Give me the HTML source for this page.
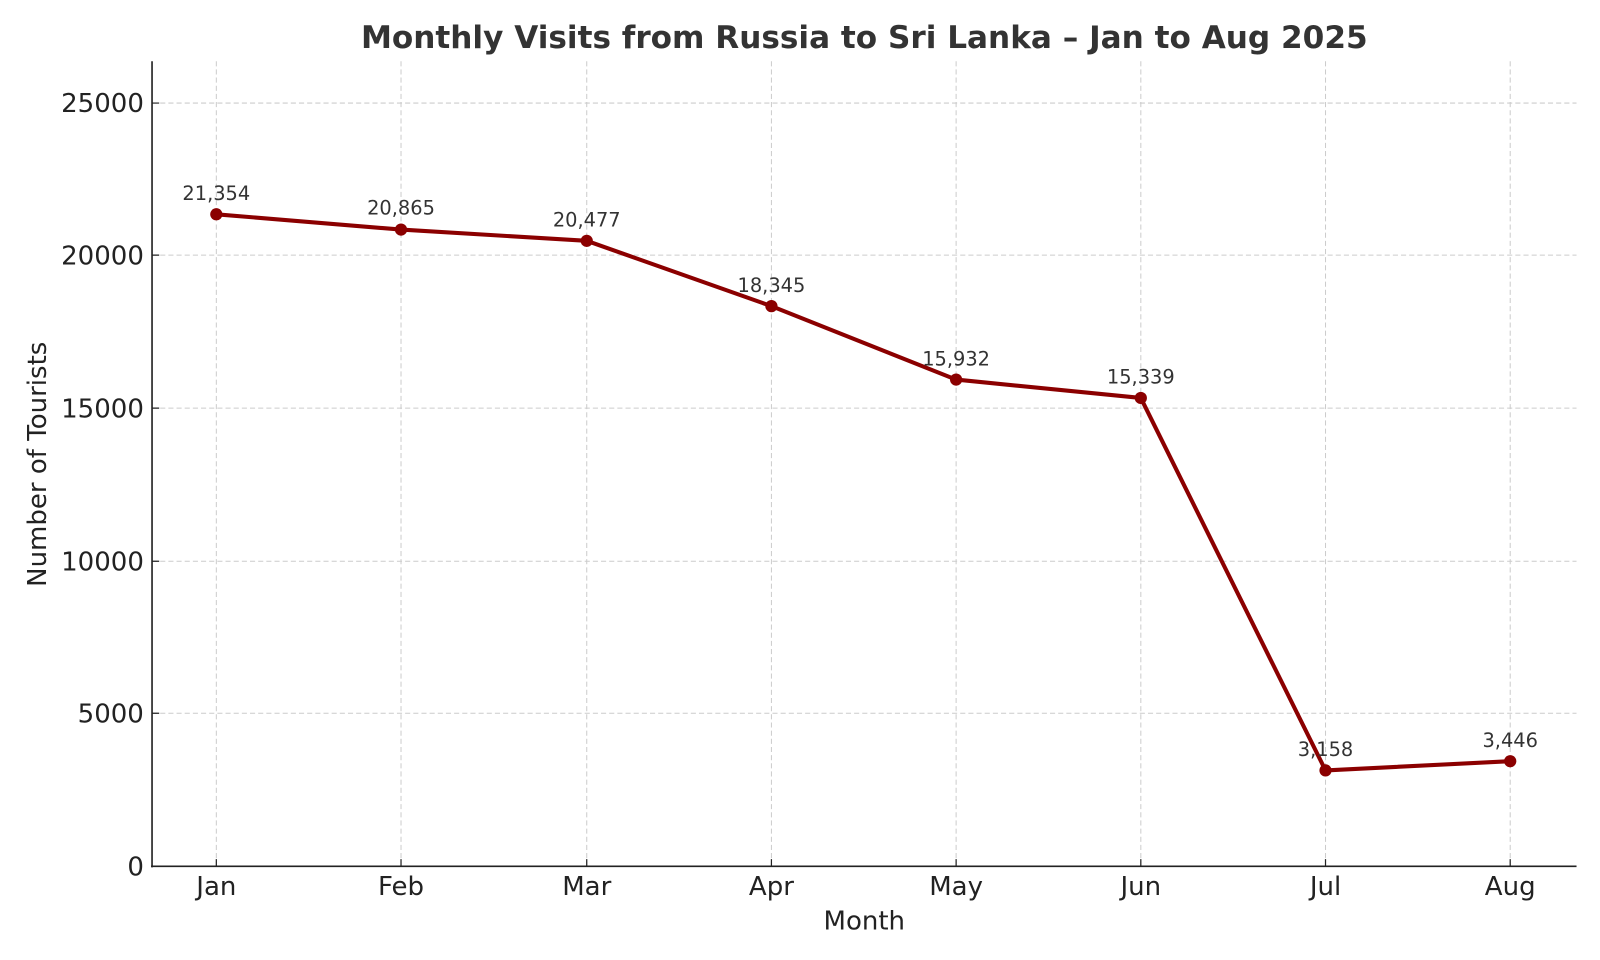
<!DOCTYPE html>
<html><head><meta charset="utf-8"><style>
html,body{margin:0;padding:0;background:#fff;}
svg{display:block;font-family:"DejaVu Sans","Liberation Sans",sans-serif;}
</style></head><body>
<svg width="1600" height="960" viewBox="0 0 1568 940.8" preserveAspectRatio="none" xmlns="http://www.w3.org/2000/svg">
<rect width="1568" height="941" fill="#fff"/>
<text x="847" y="47" text-anchor="middle" font-size="30.5" font-weight="bold" fill="#333">Monthly Visits from Russia to Sri Lanka – Jan to Aug 2025</text>
<g stroke="#cccccc" stroke-width="1" stroke-dasharray="5,3">
<line x1="149" x2="1545" y1="101" y2="101"/>
<line x1="149" x2="1545" y1="250" y2="250"/>
<line x1="149" x2="1545" y1="400" y2="400"/>
<line x1="149" x2="1545" y1="550" y2="550"/>
<line x1="149" x2="1545" y1="699" y2="699"/>
<line x1="212" x2="212" y1="60" y2="849"/>
<line x1="393" x2="393" y1="60" y2="849"/>
<line x1="575" x2="575" y1="60" y2="849"/>
<line x1="756" x2="756" y1="60" y2="849"/>
<line x1="937" x2="937" y1="60" y2="849"/>
<line x1="1118" x2="1118" y1="60" y2="849"/>
<line x1="1299" x2="1299" y1="60" y2="849"/>
<line x1="1480" x2="1480" y1="60" y2="849"/>
</g>
<g stroke="#222" stroke-width="1.6">
<line x1="149" x2="149" y1="60" y2="850"/>
<line x1="148" x2="1545" y1="849" y2="849"/>
<path d="M149 101h7M149 250h7M149 400h7M149 550h7M149 699h7M212 849v-7M393 849v-7M575 849v-7M756 849v-7M937 849v-7M1118 849v-7M1299 849v-7M1480 849v-7" stroke-width="1.2"/>
</g>
<g font-size="25.5" fill="#222" text-anchor="end">
<text x="141" y="858">0</text>
<text x="141" y="708">5000</text>
<text x="141" y="559">10000</text>
<text x="141" y="409">15000</text>
<text x="141" y="259">20000</text>
<text x="141" y="110">25000</text>
</g>
<g font-size="25.5" fill="#222" text-anchor="middle">
<text x="212" y="877">Jan</text>
<text x="393" y="877">Feb</text>
<text x="575" y="877">Mar</text>
<text x="756" y="877">Apr</text>
<text x="937" y="877">May</text>
<text x="1118" y="877">Jun</text>
<text x="1299" y="877">Jul</text>
<text x="1480" y="877">Aug</text>
<text x="847" y="911">Month</text>
<text transform="translate(45,455) rotate(-90)">Number of Tourists</text>
</g>
<polyline fill="none" stroke="#8b0000" stroke-width="4" stroke-linejoin="round" points="212,210 393,225 575,236 756,300 937,372 1118,390 1299,755 1480,746"/>
<g fill="#8b0000">
<circle cx="212" cy="210" r="6"/><circle cx="393" cy="225" r="6"/><circle cx="575" cy="236" r="6"/><circle cx="756" cy="300" r="6"/><circle cx="937" cy="372" r="6"/><circle cx="1118" cy="390" r="6"/><circle cx="1299" cy="755" r="6"/><circle cx="1480" cy="746" r="6"/>
</g>
<g font-size="19" fill="#333" text-anchor="middle">
<text x="212" y="196">21,354</text>
<text x="393" y="210">20,865</text>
<text x="575" y="222">20,477</text>
<text x="756" y="286">18,345</text>
<text x="937" y="358">15,932</text>
<text x="1118" y="376">15,339</text>
<text x="1299" y="741">3,158</text>
<text x="1480" y="732">3,446</text>
</g>
</svg>
</body></html>
